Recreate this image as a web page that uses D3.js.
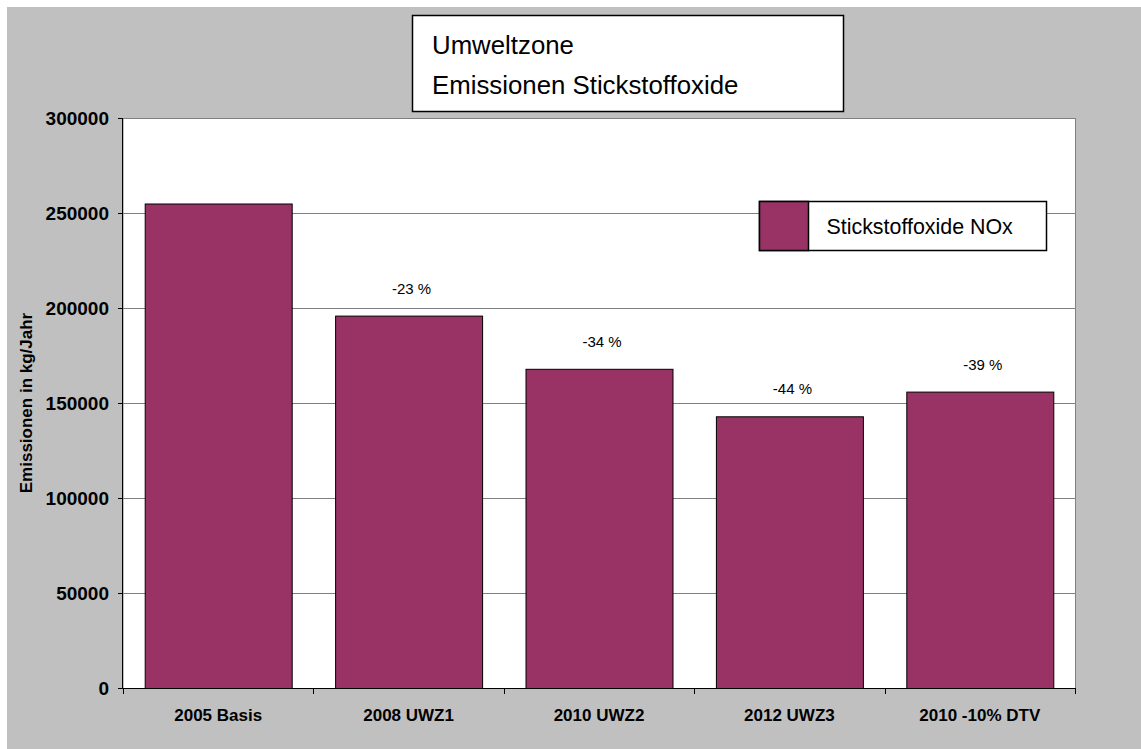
<!DOCTYPE html>
<html>
<head>
<meta charset="utf-8">
<script src="https://cdn.jsdelivr.net/npm/d3@7.9.0/dist/d3.min.js"></script>
<style>
  body { margin: 0; background: #fff; }
  svg { display: block; font-family: "Liberation Sans", Arial, sans-serif; }
</style>
</head>
<body>
<svg width="1141" height="749"></svg>
<script>
const categories = ["2005 Basis", "2008 UWZ1", "2010 UWZ2", "2012 UWZ3", "2010 -10% DTV"];
const values = [255000, 196000, 168000, 143000, 156000];
const changeLabels = [null, "-23 %", "-34 %", "-44 %", "-39 %"];
const yTicks = [0, 50000, 100000, 150000, 200000, 250000, 300000];
const titleLines = ["Umweltzone", "Emissionen Stickstoffoxide"];
const seriesName = "Stickstoffoxide NOx";

const barColor = "#993366";
const svg = d3.select("svg");

// grey chart area
svg.append("rect").attr("x", 7).attr("y", 7).attr("width", 1134).attr("height", 742).attr("fill", "#c0c0c0");

const plotL = 123, plotR = 1075, plotT = 118, plotB = 688;

const x = d3.scaleBand().domain(categories).range([plotL, plotR]).paddingInner(0.228).paddingOuter(0.114);
const y = d3.scaleLinear().domain([0, 300000]).range([plotB, plotT]);

// plot area
svg.append("rect").attr("x", plotL).attr("y", plotT + 0.5).attr("width", plotR - plotL + 0.5).attr("height", plotB - plotT)
  .attr("fill", "#fff").attr("stroke", "#808080").attr("stroke-width", 1);

// gridlines
svg.append("g").selectAll("line").data(yTicks.filter(d => d > 0)).join("line")
  .attr("x1", plotL).attr("x2", plotR)
  .attr("y1", d => y(d) + 0.5).attr("y2", d => y(d) + 0.5)
  .attr("stroke", "#808080").attr("stroke-width", 1);

// bars
svg.append("g").selectAll("rect").data(values).join("rect")
  .attr("x", (d, i) => x(categories[i]) + 0.5)
  .attr("y", d => y(d) + 0.5)
  .attr("width", x.bandwidth())
  .attr("height", d => y(0) - y(d))
  .attr("fill", barColor).attr("stroke", "#000").attr("stroke-width", 1);

// change labels above bars
const labelData = values.map((v, i) => ({ v, cat: categories[i], label: changeLabels[i] })).filter(d => d.label);
svg.append("g").selectAll("text").data(labelData).join("text")
  .attr("x", d => x(d.cat) + x.bandwidth() / 2 + 3)
  .attr("y", d => y(d.v) - 22)
  .attr("text-anchor", "middle").attr("font-size", 15).attr("fill", "#000")
  .text(d => d.label);

// y axis
const yAxis = svg.append("g").attr("transform", `translate(${plotL},0)`)
  .call(d3.axisLeft(y).tickValues(yTicks).tickSize(5).tickPadding(9).tickFormat(d3.format("d")));
yAxis.select(".domain").attr("stroke", "#000").attr("d", `M-0.5,${plotT}V${plotB}`);
yAxis.selectAll(".tick line").attr("stroke", "#000");
yAxis.selectAll("text").attr("font-size", 19).attr("font-weight", "bold").attr("font-family", "Liberation Sans, Arial, sans-serif").attr("fill", "#000");

// x axis
const xAxis = svg.append("g").attr("transform", `translate(0,${plotB})`)
  .call(d3.axisBottom(x).tickSize(0).tickPadding(21));
xAxis.select(".domain").attr("stroke", "#000").attr("d", `M${plotL},0.5H${plotR}`);
xAxis.selectAll("text").attr("font-size", 17).attr("font-weight", "bold").attr("font-family", "Liberation Sans, Arial, sans-serif").attr("fill", "#000");
xAxis.append("g").selectAll("line").data(d3.range(categories.length + 1)).join("line")
  .attr("x1", i => Math.round(plotL + i * x.step()) + 0.5).attr("x2", i => Math.round(plotL + i * x.step()) + 0.5)
  .attr("y1", 0).attr("y2", 6).attr("stroke", "#000");

// y axis title
svg.append("text").attr("transform", "translate(32,403) rotate(-90)")
  .attr("text-anchor", "middle").attr("font-size", 17).attr("font-weight", "bold")
  .text("Emissionen in kg/Jahr");

// title box
svg.append("rect").attr("x", 412.5).attr("y", 15.5).attr("width", 431).attr("height", 96)
  .attr("fill", "#fff").attr("stroke", "#000").attr("stroke-width", 1.5);
svg.append("g").selectAll("text").data(titleLines).join("text")
  .attr("x", 432).attr("y", (d, i) => 54 + i * 40)
  .attr("font-size", 25.8).attr("fill", "#000").text(d => d);

// legend
const legend = svg.append("g").attr("transform", "translate(759.5,201.5)");
legend.append("rect").attr("width", 287).attr("height", 49).attr("fill", "#fff").attr("stroke", "#000").attr("stroke-width", 1.5);
legend.append("rect").attr("width", 49).attr("height", 49).attr("fill", barColor).attr("stroke", "#000").attr("stroke-width", 1.5);
legend.append("text").attr("x", 67).attr("y", 32).attr("font-size", 21.4).attr("fill", "#000").text(seriesName);
</script>
</body>
</html>
